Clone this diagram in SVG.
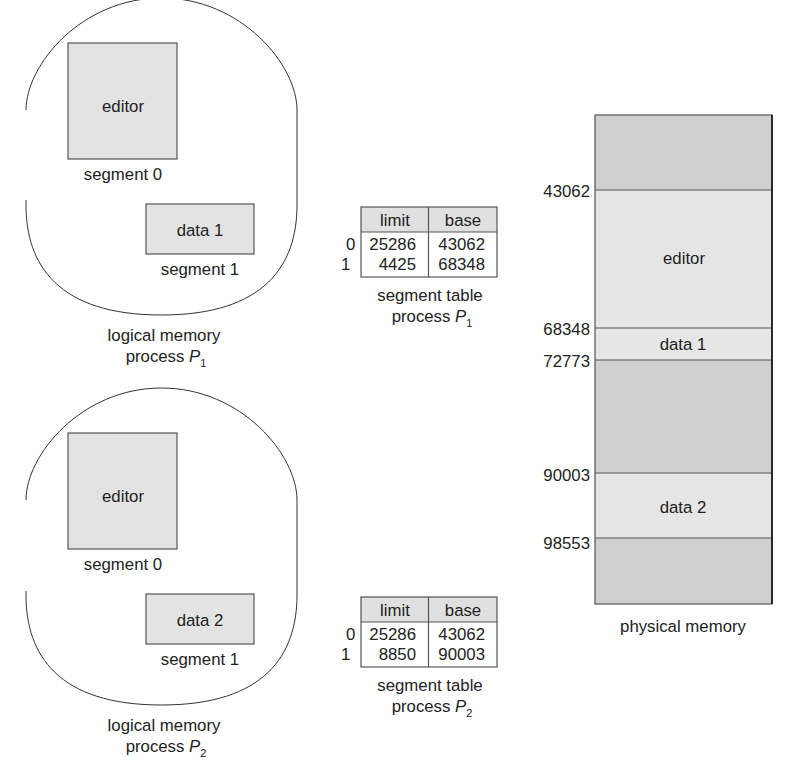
<svg xmlns="http://www.w3.org/2000/svg" width="805" height="768" viewBox="0 0 805 768">
<style>
.t{font-family:"Liberation Sans",Arial,Helvetica,sans-serif;font-size:16.8px;fill:#222}
.m{text-anchor:middle}
.e{text-anchor:end}
.box{fill:#e3e3e3;stroke:#555;stroke-width:1.2}
.blob{fill:none;stroke:#333;stroke-width:1}
.grid{fill:none;stroke:#555;stroke-width:1.2}
.dark{fill:#d0d0d0}
.light{fill:#e6e6e6}
.sep{stroke:#555;stroke-width:1.2}
</style>
<rect width="805" height="768" fill="#fff"/>

<!-- logical memory P1 -->
<g id="logical1">
  <path class="blob" d="M26,200 L26,205 C26,265 58.2,315 161.5,315 C264.8,315 297,265 297,205 L297,110 C297,65 241.5,-2 161.5,-2 C81.5,-2 26,65 26,110"/>
  <g id="p1seg0"><rect class="box" x="68" y="43" width="109" height="116"/><text class="t m" x="123" y="112">editor</text></g>
  <text class="t m" x="123" y="180">segment 0</text>
  <g id="p1seg1"><rect class="box" x="146" y="204" width="108" height="50"/><text class="t m" x="200" y="236">data 1</text></g>
  <text class="t m" x="200" y="275">segment 1</text>
  <text class="t m" x="164" y="341">logical memory</text>
  <text class="t m" x="166" y="362">process <tspan font-style="italic">P</tspan><tspan font-size="11" dy="5">1</tspan></text>
</g>

<!-- logical memory P2 -->
<g id="logical2">
  <path class="blob" d="M26,591 L26,595 C26,655 58.2,705 161.5,705 C264.8,705 297,655 297,595 L297,500 C297,455 241.5,388 161.5,388 C81.5,388 26,455 26,500"/>
  <g id="p2seg0"><rect class="box" x="68" y="433" width="109" height="116"/><text class="t m" x="123" y="502">editor</text></g>
  <text class="t m" x="123" y="570">segment 0</text>
  <g id="p2seg1"><rect class="box" x="146" y="594" width="108" height="50"/><text class="t m" x="200" y="626">data 2</text></g>
  <text class="t m" x="200" y="665">segment 1</text>
  <text class="t m" x="164" y="731">logical memory</text>
  <text class="t m" x="166" y="752">process <tspan font-style="italic">P</tspan><tspan font-size="11" dy="5">2</tspan></text>
</g>

<!-- segment table P1 -->
<g id="table1">
  <rect x="361" y="207" width="136" height="25" fill="#e0e0e0"/>
  <rect class="grid" x="361" y="207" width="136" height="70"/>
  <line class="sep" x1="361" y1="232" x2="497" y2="232"/>
  <line class="sep" x1="428.5" y1="207" x2="428.5" y2="277"/>
  <text class="t m" x="395" y="226">limit</text>
  <text class="t m" x="463" y="226">base</text>
  <text class="t" x="346" y="250">0</text>
  <text class="t" x="341" y="270">1</text>
  <text class="t e" x="416" y="250">25286</text>
  <text class="t e" x="416" y="270">4425</text>
  <text class="t e" x="485" y="250">43062</text>
  <text class="t e" x="485" y="270">68348</text>
  <text class="t m" x="430" y="301">segment table</text>
  <text class="t m" x="432" y="322">process <tspan font-style="italic">P</tspan><tspan font-size="11" dy="5">1</tspan></text>
</g>

<!-- segment table P2 -->
<g id="table2">
  <rect x="361" y="597" width="136" height="25" fill="#e0e0e0"/>
  <rect class="grid" x="361" y="597" width="136" height="70"/>
  <line class="sep" x1="361" y1="622" x2="497" y2="622"/>
  <line class="sep" x1="428.5" y1="597" x2="428.5" y2="667"/>
  <text class="t m" x="395" y="616">limit</text>
  <text class="t m" x="463" y="616">base</text>
  <text class="t" x="346" y="640">0</text>
  <text class="t" x="341" y="660">1</text>
  <text class="t e" x="416" y="640">25286</text>
  <text class="t e" x="416" y="660">8850</text>
  <text class="t e" x="485" y="640">43062</text>
  <text class="t e" x="485" y="660">90003</text>
  <text class="t m" x="430" y="691">segment table</text>
  <text class="t m" x="432" y="712">process <tspan font-style="italic">P</tspan><tspan font-size="11" dy="5">2</tspan></text>
</g>

<!-- physical memory -->
<g id="physical">
  <rect class="dark" x="595" y="115" width="177" height="489"/>
  <rect class="light" x="595" y="190" width="177" height="138"/>
  <rect class="light" x="595" y="328" width="177" height="32"/>
  <rect class="light" x="595" y="473" width="177" height="65"/>
  <rect class="grid" x="595" y="115" width="177" height="489"/>
  <line class="sep" x1="595" y1="190" x2="772" y2="190"/>
  <line class="sep" x1="595" y1="328" x2="772" y2="328"/>
  <line class="sep" x1="595" y1="360" x2="772" y2="360"/>
  <line class="sep" x1="595" y1="473" x2="772" y2="473"/>
  <line class="sep" x1="595" y1="538" x2="772" y2="538"/>
  <line x1="772" y1="115" x2="772" y2="604" stroke="#111" stroke-width="1.6"/>
  <text class="t m" x="684" y="264">editor</text>
  <text class="t m" x="683" y="350">data 1</text>
  <text class="t m" x="683" y="513">data 2</text>
  <text class="t e" x="590" y="197">43062</text>
  <text class="t e" x="590" y="335">68348</text>
  <text class="t e" x="590" y="367">72773</text>
  <text class="t e" x="590" y="481">90003</text>
  <text class="t e" x="590" y="549">98553</text>
  <text class="t m" x="683" y="632">physical memory</text>
</g>
<g id="connectors"/>
</svg>
